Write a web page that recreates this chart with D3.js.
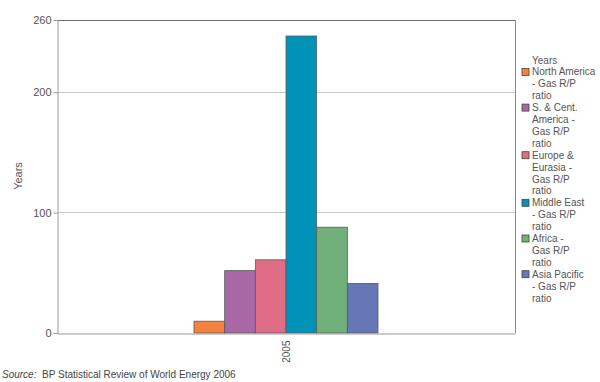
<!DOCTYPE html>
<html><head><meta charset="utf-8">
<script src="https://cdn.jsdelivr.net/npm/d3@7"></script>
<style>
body{margin:0;background:#fff;}
svg{display:block;font-family:Arial,"Liberation Sans",sans-serif;}
</style></head>
<body><svg id="c" width="600" height="382"></svg>
<script>
const categories = ["2005"];
const seriesNames = [
  ["North America", "- Gas R/P", "ratio"],
  ["S. & Cent.", "America -", "Gas R/P", "ratio"],
  ["Europe &", "Eurasia -", "Gas R/P", "ratio"],
  ["Middle East", "- Gas R/P", "ratio"],
  ["Africa -", "Gas R/P", "ratio"],
  ["Asia Pacific", "- Gas R/P", "ratio"]
];
const seriesValues = [9.8, 51.8, 60.8, 246.7, 87.9, 41.2];
const seriesColors = ["#f5823e", "#a867a5", "#e06c85", "#0093b8", "#72b07b", "#6677b6"];
const yTicks = [0, 100, 200, 260];
const yTitle = "Years";
const legendTitle = "Years";

const svg = d3.select("#c");
const L = 57, R = 515, T = 20, B = 333;
const y = d3.scaleLinear().domain([0, 260]).range([B, T]);
const x0 = d3.scaleBand().domain(categories).range([L, R]).paddingInner(0).paddingOuter(0);
const groupW = 184;
const x1 = d3.scaleBand().domain(d3.range(seriesValues.length)).range([0, groupW]);

// gridlines
svg.append("g").selectAll("line").data(yTicks.filter(t => t > 0 && t < 260)).join("line")
  .attr("x1", L).attr("x2", R).attr("y1", d => y(d)).attr("y2", d => y(d))
  .attr("stroke", "#c8c8c8").attr("stroke-width", 1).attr("shape-rendering", "crispEdges");

// bars
const gx = x0("2005") + x0.bandwidth() / 2 - groupW / 2;
svg.append("g").selectAll("rect").data(seriesValues).join("rect")
  .attr("x", (d, i) => gx + x1(i)).attr("width", x1.bandwidth())
  .attr("y", d => y(d)).attr("height", d => B - y(d))
  .attr("fill", (d, i) => seriesColors[i])
  .attr("stroke", "#5a5a5a").attr("stroke-width", 0.8);

// frame
svg.append("line").attr("x1", L).attr("x2", R).attr("y1", T + 0.5).attr("y2", T + 0.5).attr("stroke", "#6e6e6e");
svg.append("line").attr("x1", R + 0.5).attr("x2", R + 0.5).attr("y1", T).attr("y2", B).attr("stroke", "#8a8a8a");

// y axis
const yAxis = d3.axisLeft(y).tickValues(yTicks).tickSize(4).tickPadding(2);
const ya = svg.append("g").attr("transform", `translate(${L + 0.5},0)`).call(yAxis);
ya.select(".domain").attr("stroke", "#9a9a9a");
ya.selectAll(".tick line").attr("stroke", "#9a9a9a");
ya.selectAll("text").attr("fill", "#555").attr("font-size", 11).attr("font-family", "Arial, 'Liberation Sans', sans-serif");

// x axis
const xAxis = d3.axisBottom(x0).tickSize(0).tickPadding(6);
const xa = svg.append("g").attr("transform", `translate(0,${B + 0.5})`).call(xAxis);
xa.select(".domain").attr("stroke", "#9a9a9a");
xa.selectAll("text").attr("fill", "#555").attr("font-size", 10).attr("font-family", "Arial, 'Liberation Sans', sans-serif")
  .attr("transform", "rotate(-90)").attr("text-anchor", "end").attr("x", -7).attr("y", 0).attr("dy", "0.35em");

// y title
svg.append("text").attr("transform", "translate(22,176) rotate(-90)").attr("text-anchor", "middle")
  .attr("fill", "#555").attr("font-size", 11).text(yTitle);

// legend
const lg = svg.append("g").attr("font-size", 10).attr("fill", "#555");
const lh = 11.9;
lg.append("text").attr("x", 532).attr("y", 60).attr("dy", "0.35em").text(legendTitle);
let row = 1;
seriesNames.forEach((lines, i) => {
  const cy = 60 + row * lh;
  lg.append("rect").attr("x", 522).attr("y", cy - 3.5).attr("width", 7).attr("height", 7)
    .attr("fill", seriesColors[i]).attr("stroke", "#444").attr("stroke-width", 0.8);
  lines.forEach((t, j) => {
    lg.append("text").attr("x", 532).attr("y", 60 + (row + j) * lh).attr("dy", "0.35em").text(t);
  });
  row += lines.length;
});

// source
const src = svg.append("text").attr("x", 2).attr("y", 378).attr("font-size", 10).attr("fill", "#444");
src.append("tspan").attr("font-style", "italic").text("Source:");
src.append("tspan").text("\u00a0 BP Statistical Review of World Energy 2006");
</script>
</body></html>
